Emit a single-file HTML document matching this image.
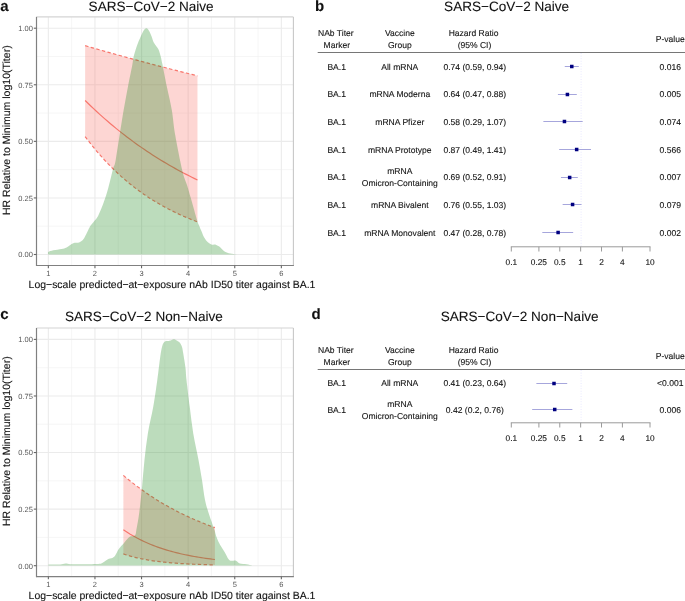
<!DOCTYPE html>
<html><head><meta charset="utf-8"><style>
html,body{margin:0;padding:0;background:#fff;width:685px;height:601px;overflow:hidden}
svg{display:block;will-change:transform}
text{font-family:"Liberation Sans", sans-serif;text-rendering:geometricPrecision;fill:#111;stroke:#111;stroke-width:0.1px}
text.tk{fill:#555;stroke:none}
</style></head><body>
<svg width="685" height="601" viewBox="0 0 685 601">
<rect width="685" height="601" fill="#fff"/>
<rect x="36.5" y="16.9" width="256.9" height="248.6" fill="#fff"/>
<line x1="71.65" y1="16.9" x2="71.65" y2="265.5" stroke="#f0f0f0" stroke-width="0.6"/>
<line x1="118.25" y1="16.9" x2="118.25" y2="265.5" stroke="#f0f0f0" stroke-width="0.6"/>
<line x1="164.85" y1="16.9" x2="164.85" y2="265.5" stroke="#f0f0f0" stroke-width="0.6"/>
<line x1="211.45" y1="16.9" x2="211.45" y2="265.5" stroke="#f0f0f0" stroke-width="0.6"/>
<line x1="258.05" y1="16.9" x2="258.05" y2="265.5" stroke="#f0f0f0" stroke-width="0.6"/>
<line x1="36.5" y1="226.21" x2="293.4" y2="226.21" stroke="#f0f0f0" stroke-width="0.6"/>
<line x1="36.5" y1="169.64" x2="293.4" y2="169.64" stroke="#f0f0f0" stroke-width="0.6"/>
<line x1="36.5" y1="113.06" x2="293.4" y2="113.06" stroke="#f0f0f0" stroke-width="0.6"/>
<line x1="36.5" y1="56.49" x2="293.4" y2="56.49" stroke="#f0f0f0" stroke-width="0.6"/>
<line x1="48.35" y1="16.9" x2="48.35" y2="265.5" stroke="#ebebeb" stroke-width="1.1"/>
<line x1="94.95" y1="16.9" x2="94.95" y2="265.5" stroke="#ebebeb" stroke-width="1.1"/>
<line x1="141.55" y1="16.9" x2="141.55" y2="265.5" stroke="#ebebeb" stroke-width="1.1"/>
<line x1="188.15" y1="16.9" x2="188.15" y2="265.5" stroke="#ebebeb" stroke-width="1.1"/>
<line x1="234.75" y1="16.9" x2="234.75" y2="265.5" stroke="#ebebeb" stroke-width="1.1"/>
<line x1="281.35" y1="16.9" x2="281.35" y2="265.5" stroke="#ebebeb" stroke-width="1.1"/>
<line x1="36.5" y1="254.50" x2="293.4" y2="254.50" stroke="#ebebeb" stroke-width="1.1"/>
<line x1="36.5" y1="197.93" x2="293.4" y2="197.93" stroke="#ebebeb" stroke-width="1.1"/>
<line x1="36.5" y1="141.35" x2="293.4" y2="141.35" stroke="#ebebeb" stroke-width="1.1"/>
<line x1="36.5" y1="84.77" x2="293.4" y2="84.77" stroke="#ebebeb" stroke-width="1.1"/>
<line x1="36.5" y1="28.20" x2="293.4" y2="28.20" stroke="#ebebeb" stroke-width="1.1"/>
<polygon points="85.16,45.69 87.97,46.51 90.78,47.31 93.59,48.12 96.39,48.92 99.20,49.72 102.01,50.52 104.82,51.31 107.63,52.10 110.43,52.89 113.24,53.68 116.05,54.46 118.86,55.24 121.66,56.01 124.47,56.78 127.28,57.55 130.09,58.32 132.89,59.08 135.70,59.84 138.51,60.60 141.32,61.35 144.12,62.11 146.93,62.85 149.74,63.60 152.55,64.34 155.36,65.08 158.16,65.82 160.97,66.55 163.78,67.28 166.59,68.01 169.39,68.74 172.20,69.46 175.01,70.18 177.82,70.90 180.62,71.61 183.43,72.32 186.24,73.03 189.05,73.74 191.85,74.44 194.66,75.14 197.47,75.84 197.47,221.87 194.66,220.80 191.85,219.70 189.05,218.57 186.24,217.39 183.43,216.18 180.62,214.93 177.82,213.64 175.01,212.31 172.20,210.93 169.39,209.51 166.59,208.04 163.78,206.52 160.97,204.96 158.16,203.34 155.36,201.67 152.55,199.95 149.74,198.17 146.93,196.33 144.12,194.43 141.32,192.47 138.51,190.45 135.70,188.36 132.89,186.20 130.09,183.97 127.28,181.67 124.47,179.29 121.66,176.84 118.86,174.30 116.05,171.68 113.24,168.98 110.43,166.19 107.63,163.31 104.82,160.33 102.01,157.26 99.20,154.09 96.39,150.81 93.59,147.43 90.78,143.93 87.97,140.32 85.16,136.60" fill="#F8766D" fill-opacity="0.3"/>
<polyline points="85.16,45.69 87.97,46.51 90.78,47.31 93.59,48.12 96.39,48.92 99.20,49.72 102.01,50.52 104.82,51.31 107.63,52.10 110.43,52.89 113.24,53.68 116.05,54.46 118.86,55.24 121.66,56.01 124.47,56.78 127.28,57.55 130.09,58.32 132.89,59.08 135.70,59.84 138.51,60.60 141.32,61.35 144.12,62.11 146.93,62.85 149.74,63.60 152.55,64.34 155.36,65.08 158.16,65.82 160.97,66.55 163.78,67.28 166.59,68.01 169.39,68.74 172.20,69.46 175.01,70.18 177.82,70.90 180.62,71.61 183.43,72.32 186.24,73.03 189.05,73.74 191.85,74.44 194.66,75.14 197.47,75.84" fill="none" stroke="#F8766D" stroke-width="1.2" stroke-dasharray="3.4 2.4"/>
<polyline points="85.16,136.60 87.97,140.32 90.78,143.93 93.59,147.43 96.39,150.81 99.20,154.09 102.01,157.26 104.82,160.33 107.63,163.31 110.43,166.19 113.24,168.98 116.05,171.68 118.86,174.30 121.66,176.84 124.47,179.29 127.28,181.67 130.09,183.97 132.89,186.20 135.70,188.36 138.51,190.45 141.32,192.47 144.12,194.43 146.93,196.33 149.74,198.17 152.55,199.95 155.36,201.67 158.16,203.34 160.97,204.96 163.78,206.52 166.59,208.04 169.39,209.51 172.20,210.93 175.01,212.31 177.82,213.64 180.62,214.93 183.43,216.18 186.24,217.39 189.05,218.57 191.85,219.70 194.66,220.80 197.47,221.87" fill="none" stroke="#F8766D" stroke-width="1.2" stroke-dasharray="3.4 2.4"/>
<polyline points="85.16,100.46 87.97,103.23 90.78,105.95 93.59,108.63 96.39,111.25 99.20,113.83 102.01,116.36 104.82,118.85 107.63,121.29 110.43,123.69 113.24,126.05 116.05,128.36 118.86,130.63 121.66,132.86 124.47,135.05 127.28,137.20 130.09,139.31 132.89,141.38 135.70,143.42 138.51,145.42 141.32,147.38 144.12,149.31 146.93,151.20 149.74,153.06 152.55,154.89 155.36,156.68 158.16,158.44 160.97,160.17 163.78,161.87 166.59,163.54 169.39,165.18 172.20,166.78 175.01,168.36 177.82,169.91 180.62,171.44 183.43,172.93 186.24,174.40 189.05,175.84 191.85,177.26 194.66,178.65 197.47,180.01" fill="none" stroke="#F8766D" stroke-width="1.2"/>
<path d="M48.30,254.50 C48.30,254.08 47.47,252.70 48.30,252.00 C49.13,251.30 51.08,250.80 53.30,250.30 C55.52,249.80 59.38,249.48 61.60,249.00 C63.82,248.52 64.65,248.37 66.60,247.40 C68.55,246.43 71.22,244.03 73.30,243.20 C75.38,242.37 77.30,243.23 79.10,242.40 C80.90,241.57 82.28,240.83 84.10,238.20 C85.92,235.57 88.48,229.23 90.00,226.60 C91.52,223.97 91.83,224.22 93.20,222.40 C94.57,220.58 96.40,219.17 98.20,215.70 C100.00,212.23 102.33,206.17 104.00,201.60 C105.67,197.03 106.67,193.85 108.20,188.30 C109.73,182.75 111.95,173.02 113.20,168.30 C114.45,163.58 114.23,168.05 115.70,160.00 C117.17,151.95 119.95,132.23 122.00,120.00 C124.05,107.77 126.28,95.77 128.00,86.60 C129.72,77.43 131.42,69.72 132.30,65.00 C133.18,60.28 132.85,60.52 133.30,58.30 C133.75,56.08 134.30,54.05 135.00,51.70 C135.70,49.35 136.67,46.43 137.50,44.20 C138.33,41.97 139.15,40.23 140.00,38.30 C140.85,36.37 141.83,34.10 142.60,32.60 C143.37,31.10 143.97,30.03 144.60,29.30 C145.23,28.57 145.83,28.22 146.40,28.20 C146.97,28.18 147.45,28.57 148.00,29.20 C148.55,29.83 149.08,30.75 149.70,32.00 C150.32,33.25 151.02,34.95 151.70,36.70 C152.38,38.45 152.92,40.83 153.75,42.50 C154.58,44.17 155.87,45.45 156.70,46.70 C157.53,47.95 158.07,48.33 158.75,50.00 C159.43,51.67 160.23,54.48 160.80,56.70 C161.38,58.92 161.20,58.32 162.20,63.30 C163.20,68.28 165.20,78.82 166.80,86.60 C168.40,94.38 170.40,101.93 171.80,110.00 C173.20,118.07 173.43,124.83 175.20,135.00 C176.97,145.17 180.45,162.70 182.40,171.00 C184.35,179.30 185.53,180.42 186.90,184.80 C188.27,189.18 188.88,191.33 190.60,197.30 C192.32,203.27 195.73,215.78 197.20,220.60 C198.67,225.42 198.70,224.45 199.40,226.20 C200.10,227.95 200.60,229.22 201.40,231.10 C202.20,232.98 203.12,235.63 204.20,237.50 C205.28,239.37 206.62,241.10 207.90,242.30 C209.18,243.50 210.88,244.33 211.90,244.70 C212.92,245.07 213.33,244.48 214.00,244.50 C214.67,244.52 214.92,244.37 215.90,244.80 C216.88,245.23 218.57,246.05 219.90,247.10 C221.23,248.15 222.43,250.08 223.90,251.10 C225.37,252.12 226.82,252.68 228.70,253.20 C230.58,253.72 233.12,253.98 235.20,254.20 C237.28,254.42 240.20,254.45 241.20,254.50Z" fill="#228b22" fill-opacity="0.3"/>
<line x1="36.5" y1="16.9" x2="293.4" y2="16.9" stroke="#d4d4d4" stroke-width="1.1"/>
<line x1="293.4" y1="16.9" x2="293.4" y2="265.5" stroke="#c8c8c8" stroke-width="1.1"/>
<line x1="36.5" y1="16.9" x2="36.5" y2="266.0" stroke="#808080" stroke-width="1.2"/>
<line x1="36.0" y1="265.5" x2="293.9" y2="265.5" stroke="#808080" stroke-width="1.2"/>
<line x1="33.8" y1="254.50" x2="36.5" y2="254.50" stroke="#666" stroke-width="1.1"/>
<text x="32.9" y="257.30" font-size="7.5" class="tk" text-anchor="end">0.00</text>
<line x1="33.8" y1="197.93" x2="36.5" y2="197.93" stroke="#666" stroke-width="1.1"/>
<text x="32.9" y="200.73" font-size="7.5" class="tk" text-anchor="end">0.25</text>
<line x1="33.8" y1="141.35" x2="36.5" y2="141.35" stroke="#666" stroke-width="1.1"/>
<text x="32.9" y="144.15" font-size="7.5" class="tk" text-anchor="end">0.50</text>
<line x1="33.8" y1="84.77" x2="36.5" y2="84.77" stroke="#666" stroke-width="1.1"/>
<text x="32.9" y="87.57" font-size="7.5" class="tk" text-anchor="end">0.75</text>
<line x1="33.8" y1="28.20" x2="36.5" y2="28.20" stroke="#666" stroke-width="1.1"/>
<text x="32.9" y="31.00" font-size="7.5" class="tk" text-anchor="end">1.00</text>
<line x1="48.35" y1="265.5" x2="48.35" y2="268.2" stroke="#666" stroke-width="1.1"/>
<text x="48.35" y="275.60" font-size="7.5" class="tk" text-anchor="middle">1</text>
<line x1="94.95" y1="265.5" x2="94.95" y2="268.2" stroke="#666" stroke-width="1.1"/>
<text x="94.95" y="275.60" font-size="7.5" class="tk" text-anchor="middle">2</text>
<line x1="141.55" y1="265.5" x2="141.55" y2="268.2" stroke="#666" stroke-width="1.1"/>
<text x="141.55" y="275.60" font-size="7.5" class="tk" text-anchor="middle">3</text>
<line x1="188.15" y1="265.5" x2="188.15" y2="268.2" stroke="#666" stroke-width="1.1"/>
<text x="188.15" y="275.60" font-size="7.5" class="tk" text-anchor="middle">4</text>
<line x1="234.75" y1="265.5" x2="234.75" y2="268.2" stroke="#666" stroke-width="1.1"/>
<text x="234.75" y="275.60" font-size="7.5" class="tk" text-anchor="middle">5</text>
<line x1="281.35" y1="265.5" x2="281.35" y2="268.2" stroke="#666" stroke-width="1.1"/>
<text x="281.35" y="275.60" font-size="7.5" class="tk" text-anchor="middle">6</text>
<text x="28.6" y="287.60" font-size="10.46">Log−scale predicted−at−exposure nAb ID50 titer against BA.1</text>
<text transform="translate(9.7,130.20) rotate(-90)" font-size="10.52" text-anchor="middle">HR Relative to Minimum log10(Titer)</text>
<text x="151.1" y="11.10" font-size="13.55" text-anchor="middle">SARS−CoV−2 Naive</text>
<text x="0.3" y="10.70" font-size="15" font-weight="bold">a</text>
<rect x="36.5" y="328.0" width="256.9" height="248.60000000000002" fill="#fff"/>
<line x1="71.65" y1="328.0" x2="71.65" y2="576.6" stroke="#f0f0f0" stroke-width="0.6"/>
<line x1="118.25" y1="328.0" x2="118.25" y2="576.6" stroke="#f0f0f0" stroke-width="0.6"/>
<line x1="164.85" y1="328.0" x2="164.85" y2="576.6" stroke="#f0f0f0" stroke-width="0.6"/>
<line x1="211.45" y1="328.0" x2="211.45" y2="576.6" stroke="#f0f0f0" stroke-width="0.6"/>
<line x1="258.05" y1="328.0" x2="258.05" y2="576.6" stroke="#f0f0f0" stroke-width="0.6"/>
<line x1="36.5" y1="537.41" x2="293.4" y2="537.41" stroke="#f0f0f0" stroke-width="0.6"/>
<line x1="36.5" y1="480.84" x2="293.4" y2="480.84" stroke="#f0f0f0" stroke-width="0.6"/>
<line x1="36.5" y1="424.26" x2="293.4" y2="424.26" stroke="#f0f0f0" stroke-width="0.6"/>
<line x1="36.5" y1="367.69" x2="293.4" y2="367.69" stroke="#f0f0f0" stroke-width="0.6"/>
<line x1="48.35" y1="328.0" x2="48.35" y2="576.6" stroke="#ebebeb" stroke-width="1.1"/>
<line x1="94.95" y1="328.0" x2="94.95" y2="576.6" stroke="#ebebeb" stroke-width="1.1"/>
<line x1="141.55" y1="328.0" x2="141.55" y2="576.6" stroke="#ebebeb" stroke-width="1.1"/>
<line x1="188.15" y1="328.0" x2="188.15" y2="576.6" stroke="#ebebeb" stroke-width="1.1"/>
<line x1="234.75" y1="328.0" x2="234.75" y2="576.6" stroke="#ebebeb" stroke-width="1.1"/>
<line x1="281.35" y1="328.0" x2="281.35" y2="576.6" stroke="#ebebeb" stroke-width="1.1"/>
<line x1="36.5" y1="565.70" x2="293.4" y2="565.70" stroke="#ebebeb" stroke-width="1.1"/>
<line x1="36.5" y1="509.13" x2="293.4" y2="509.13" stroke="#ebebeb" stroke-width="1.1"/>
<line x1="36.5" y1="452.55" x2="293.4" y2="452.55" stroke="#ebebeb" stroke-width="1.1"/>
<line x1="36.5" y1="395.98" x2="293.4" y2="395.98" stroke="#ebebeb" stroke-width="1.1"/>
<line x1="36.5" y1="339.40" x2="293.4" y2="339.40" stroke="#ebebeb" stroke-width="1.1"/>
<polygon points="123.38,475.41 125.66,477.34 127.95,479.22 130.24,481.07 132.53,482.88 134.82,484.65 137.10,486.38 139.39,488.07 141.68,489.73 143.97,491.35 146.26,492.94 148.54,494.50 150.83,496.02 153.12,497.51 155.41,498.96 157.70,500.39 159.98,501.78 162.27,503.15 164.56,504.49 166.85,505.79 169.14,507.07 171.43,508.33 173.71,509.55 176.00,510.75 178.29,511.93 180.58,513.07 182.87,514.20 185.15,515.30 187.44,516.38 189.73,517.43 192.02,518.46 194.31,519.47 196.59,520.46 198.88,521.42 201.17,522.37 203.46,523.29 205.75,524.20 208.03,525.09 210.32,525.95 212.61,526.80 214.90,527.63 214.90,564.91 212.61,564.86 210.32,564.80 208.03,564.73 205.75,564.67 203.46,564.59 201.17,564.52 198.88,564.43 196.59,564.35 194.31,564.25 192.02,564.15 189.73,564.04 187.44,563.93 185.15,563.80 182.87,563.67 180.58,563.53 178.29,563.37 176.00,563.21 173.71,563.04 171.43,562.85 169.14,562.65 166.85,562.44 164.56,562.21 162.27,561.97 159.98,561.71 157.70,561.43 155.41,561.13 153.12,560.81 150.83,560.47 148.54,560.10 146.26,559.71 143.97,559.29 141.68,558.85 139.39,558.37 137.10,557.85 134.82,557.31 132.53,556.72 130.24,556.09 127.95,555.42 125.66,554.70 123.38,553.93" fill="#F8766D" fill-opacity="0.3"/>
<polyline points="123.38,475.41 125.66,477.34 127.95,479.22 130.24,481.07 132.53,482.88 134.82,484.65 137.10,486.38 139.39,488.07 141.68,489.73 143.97,491.35 146.26,492.94 148.54,494.50 150.83,496.02 153.12,497.51 155.41,498.96 157.70,500.39 159.98,501.78 162.27,503.15 164.56,504.49 166.85,505.79 169.14,507.07 171.43,508.33 173.71,509.55 176.00,510.75 178.29,511.93 180.58,513.07 182.87,514.20 185.15,515.30 187.44,516.38 189.73,517.43 192.02,518.46 194.31,519.47 196.59,520.46 198.88,521.42 201.17,522.37 203.46,523.29 205.75,524.20 208.03,525.09 210.32,525.95 212.61,526.80 214.90,527.63" fill="none" stroke="#F8766D" stroke-width="1.2" stroke-dasharray="3.4 2.4"/>
<polyline points="123.38,553.93 125.66,554.70 127.95,555.42 130.24,556.09 132.53,556.72 134.82,557.31 137.10,557.85 139.39,558.37 141.68,558.85 143.97,559.29 146.26,559.71 148.54,560.10 150.83,560.47 153.12,560.81 155.41,561.13 157.70,561.43 159.98,561.71 162.27,561.97 164.56,562.21 166.85,562.44 169.14,562.65 171.43,562.85 173.71,563.04 176.00,563.21 178.29,563.37 180.58,563.53 182.87,563.67 185.15,563.80 187.44,563.93 189.73,564.04 192.02,564.15 194.31,564.25 196.59,564.35 198.88,564.43 201.17,564.52 203.46,564.59 205.75,564.67 208.03,564.73 210.32,564.80 212.61,564.86 214.90,564.91" fill="none" stroke="#F8766D" stroke-width="1.2" stroke-dasharray="3.4 2.4"/>
<polyline points="123.38,529.72 125.66,531.27 127.95,532.75 130.24,534.17 132.53,535.52 134.82,536.82 137.10,538.07 139.39,539.26 141.68,540.39 143.97,541.48 146.26,542.52 148.54,543.52 150.83,544.48 153.12,545.39 155.41,546.26 157.70,547.10 159.98,547.90 162.27,548.67 164.56,549.40 166.85,550.10 169.14,550.77 171.43,551.42 173.71,552.03 176.00,552.62 178.29,553.18 180.58,553.72 182.87,554.24 185.15,554.73 187.44,555.20 189.73,555.65 192.02,556.09 194.31,556.50 196.59,556.90 198.88,557.27 201.17,557.64 203.46,557.98 205.75,558.32 208.03,558.63 210.32,558.94 212.61,559.23 214.90,559.51" fill="none" stroke="#F8766D" stroke-width="1.2"/>
<path d="M48.50,565.60 C48.50,565.45 47.48,564.87 48.50,564.70 C49.52,564.53 52.62,564.63 54.60,564.60 C56.58,564.57 58.58,564.67 60.40,564.50 C62.22,564.33 63.78,563.63 65.50,563.60 C67.22,563.57 67.65,564.20 70.70,564.30 C73.75,564.40 79.18,564.27 83.80,564.20 C88.42,564.13 95.48,564.00 98.40,563.90 C101.32,563.80 100.33,563.95 101.30,563.60 C102.27,563.25 103.10,562.53 104.20,561.80 C105.30,561.07 106.55,559.83 107.90,559.20 C109.25,558.57 111.08,558.62 112.30,558.00 C113.52,557.38 114.12,557.00 115.20,555.50 C116.28,554.00 117.47,550.93 118.80,549.00 C120.13,547.07 121.45,545.90 123.20,543.90 C124.95,541.90 127.35,538.40 129.30,537.00 C131.25,535.60 133.70,536.83 134.90,535.50 C136.10,534.17 135.78,532.75 136.50,529.00 C137.22,525.25 138.27,520.10 139.20,513.00 C140.13,505.90 141.22,495.27 142.10,486.40 C142.98,477.53 143.53,468.67 144.50,459.80 C145.47,450.93 146.43,442.07 147.90,433.20 C149.37,424.33 151.73,415.47 153.30,406.60 C154.87,397.73 156.38,386.43 157.30,380.00 C158.22,373.57 158.27,372.17 158.80,368.00 C159.33,363.83 159.97,358.50 160.50,355.00 C161.03,351.50 161.50,349.00 162.00,347.00 C162.50,345.00 162.92,343.97 163.50,343.00 C164.08,342.03 164.50,341.57 165.50,341.20 C166.50,340.83 168.08,341.12 169.50,340.80 C170.92,340.48 172.67,339.27 174.00,339.30 C175.33,339.33 176.50,340.38 177.50,341.00 C178.50,341.62 179.25,342.00 180.00,343.00 C180.75,344.00 181.42,345.00 182.00,347.00 C182.58,349.00 182.92,351.50 183.50,355.00 C184.08,358.50 185.00,363.83 185.50,368.00 C186.00,372.17 185.80,373.57 186.50,380.00 C187.20,386.43 188.58,397.73 189.70,406.60 C190.82,415.47 191.73,424.30 193.20,433.20 C194.67,442.10 197.03,452.20 198.50,460.00 C199.97,467.80 200.92,473.33 202.00,480.00 C203.08,486.67 203.88,494.45 205.00,500.00 C206.12,505.55 207.32,508.85 208.70,513.30 C210.08,517.75 212.33,523.92 213.30,526.70 C214.27,529.48 213.95,528.23 214.50,530.00 C215.05,531.77 215.70,534.87 216.60,537.30 C217.50,539.73 218.57,542.17 219.90,544.60 C221.23,547.03 223.15,549.47 224.60,551.90 C226.05,554.33 227.50,557.73 228.60,559.20 C229.70,560.67 230.22,560.50 231.20,560.70 C232.18,560.90 233.62,560.35 234.50,560.40 C235.38,560.45 235.60,560.47 236.50,561.00 C237.40,561.53 238.23,563.05 239.90,563.60 C241.57,564.15 244.43,563.97 246.50,564.30 C248.57,564.63 251.33,565.38 252.30,565.60Z" fill="#228b22" fill-opacity="0.3"/>
<line x1="36.5" y1="328.0" x2="293.4" y2="328.0" stroke="#d4d4d4" stroke-width="1.1"/>
<line x1="293.4" y1="328.0" x2="293.4" y2="576.6" stroke="#c8c8c8" stroke-width="1.1"/>
<line x1="36.5" y1="328.0" x2="36.5" y2="577.1" stroke="#808080" stroke-width="1.2"/>
<line x1="36.0" y1="576.6" x2="293.9" y2="576.6" stroke="#808080" stroke-width="1.2"/>
<line x1="33.8" y1="565.70" x2="36.5" y2="565.70" stroke="#666" stroke-width="1.1"/>
<text x="32.9" y="568.50" font-size="7.5" class="tk" text-anchor="end">0.00</text>
<line x1="33.8" y1="509.13" x2="36.5" y2="509.13" stroke="#666" stroke-width="1.1"/>
<text x="32.9" y="511.93" font-size="7.5" class="tk" text-anchor="end">0.25</text>
<line x1="33.8" y1="452.55" x2="36.5" y2="452.55" stroke="#666" stroke-width="1.1"/>
<text x="32.9" y="455.35" font-size="7.5" class="tk" text-anchor="end">0.50</text>
<line x1="33.8" y1="395.98" x2="36.5" y2="395.98" stroke="#666" stroke-width="1.1"/>
<text x="32.9" y="398.78" font-size="7.5" class="tk" text-anchor="end">0.75</text>
<line x1="33.8" y1="339.40" x2="36.5" y2="339.40" stroke="#666" stroke-width="1.1"/>
<text x="32.9" y="342.20" font-size="7.5" class="tk" text-anchor="end">1.00</text>
<line x1="48.35" y1="576.6" x2="48.35" y2="579.3000000000001" stroke="#666" stroke-width="1.1"/>
<text x="48.35" y="586.70" font-size="7.5" class="tk" text-anchor="middle">1</text>
<line x1="94.95" y1="576.6" x2="94.95" y2="579.3000000000001" stroke="#666" stroke-width="1.1"/>
<text x="94.95" y="586.70" font-size="7.5" class="tk" text-anchor="middle">2</text>
<line x1="141.55" y1="576.6" x2="141.55" y2="579.3000000000001" stroke="#666" stroke-width="1.1"/>
<text x="141.55" y="586.70" font-size="7.5" class="tk" text-anchor="middle">3</text>
<line x1="188.15" y1="576.6" x2="188.15" y2="579.3000000000001" stroke="#666" stroke-width="1.1"/>
<text x="188.15" y="586.70" font-size="7.5" class="tk" text-anchor="middle">4</text>
<line x1="234.75" y1="576.6" x2="234.75" y2="579.3000000000001" stroke="#666" stroke-width="1.1"/>
<text x="234.75" y="586.70" font-size="7.5" class="tk" text-anchor="middle">5</text>
<line x1="281.35" y1="576.6" x2="281.35" y2="579.3000000000001" stroke="#666" stroke-width="1.1"/>
<text x="281.35" y="586.70" font-size="7.5" class="tk" text-anchor="middle">6</text>
<text x="28.6" y="598.70" font-size="10.46">Log−scale predicted−at−exposure nAb ID50 titer against BA.1</text>
<text transform="translate(9.7,441.20) rotate(-90)" font-size="10.52" text-anchor="middle">HR Relative to Minimum log10(Titer)</text>
<text x="143.9" y="320.50" font-size="13.55" text-anchor="middle">SARS−CoV−2 Non−Naive</text>
<text x="0.3" y="318.90" font-size="15" font-weight="bold">c</text>
<text x="506.6" y="11.10" font-size="13.55" text-anchor="middle">SARS−CoV−2 Naive</text>
<text x="314.9" y="10.80" font-size="15" font-weight="bold">b</text>
<text x="335.8" y="35.80" font-size="8.55" text-anchor="middle">NAb Titer</text>
<text x="336.9" y="48.00" font-size="8.55" text-anchor="middle">Marker</text>
<text x="399.8" y="35.80" font-size="8.55" text-anchor="middle">Vaccine</text>
<text x="399.8" y="48.00" font-size="8.55" text-anchor="middle">Group</text>
<text x="473.6" y="35.80" font-size="8.55" text-anchor="middle">Hazard Ratio</text>
<text x="474.5" y="48.00" font-size="8.55" text-anchor="middle">(95% CI)</text>
<text x="670.3" y="41.60" font-size="8.55" text-anchor="middle">P-value</text>
<line x1="317.7" y1="52.50" x2="685" y2="52.50" stroke="#767676" stroke-width="1"/>
<line x1="581.1" y1="53.00" x2="581.1" y2="246.80" stroke="#e2e2ff" stroke-width="0.8" stroke-dasharray="1 1.6"/>
<text x="336.7" y="69.60" font-size="8.55" text-anchor="middle">BA.1</text>
<text x="399.8" y="69.60" font-size="8.55" text-anchor="middle">All mRNA</text>
<text x="474.8" y="69.60" font-size="8.55" text-anchor="middle">0.74 (0.59, 0.94)</text>
<text x="670.3" y="69.60" font-size="8.55" text-anchor="middle">0.016</text>
<line x1="564.76" y1="66.50" x2="578.79" y2="66.50" stroke="#a6a6dc" stroke-width="1"/>
<rect x="570.03" y="64.75" width="3.5" height="3.5" fill="#000080"/>
<text x="336.7" y="97.27" font-size="8.55" text-anchor="middle">BA.1</text>
<text x="399.8" y="97.27" font-size="8.55" text-anchor="middle">mRNA Moderna</text>
<text x="474.8" y="97.27" font-size="8.55" text-anchor="middle">0.64 (0.47, 0.88)</text>
<text x="670.3" y="97.27" font-size="8.55" text-anchor="middle">0.005</text>
<line x1="557.91" y1="94.50" x2="576.80" y2="94.50" stroke="#a6a6dc" stroke-width="1"/>
<rect x="565.66" y="92.75" width="3.5" height="3.5" fill="#000080"/>
<text x="336.7" y="124.94" font-size="8.55" text-anchor="middle">BA.1</text>
<text x="399.8" y="124.94" font-size="8.55" text-anchor="middle">mRNA Pfizer</text>
<text x="474.8" y="124.94" font-size="8.55" text-anchor="middle">0.58 (0.29, 1.07)</text>
<text x="670.3" y="124.94" font-size="8.55" text-anchor="middle">0.074</text>
<line x1="543.37" y1="121.50" x2="582.69" y2="121.50" stroke="#a6a6dc" stroke-width="1"/>
<rect x="562.69" y="119.75" width="3.5" height="3.5" fill="#000080"/>
<text x="336.7" y="152.61" font-size="8.55" text-anchor="middle">BA.1</text>
<text x="399.8" y="152.61" font-size="8.55" text-anchor="middle">mRNA Prototype</text>
<text x="474.8" y="152.61" font-size="8.55" text-anchor="middle">0.87 (0.49, 1.41)</text>
<text x="670.3" y="152.61" font-size="8.55" text-anchor="middle">0.566</text>
<line x1="559.17" y1="149.50" x2="591.00" y2="149.50" stroke="#a6a6dc" stroke-width="1"/>
<rect x="574.91" y="147.75" width="3.5" height="3.5" fill="#000080"/>
<text x="336.7" y="180.28" font-size="8.55" text-anchor="middle">BA.1</text>
<text x="399.8" y="174.18" font-size="8.55" text-anchor="middle">mRNA</text>
<text x="399.8" y="186.38" font-size="8.55" text-anchor="middle">Omicron-Containing</text>
<text x="474.8" y="180.28" font-size="8.55" text-anchor="middle">0.69 (0.52, 0.91)</text>
<text x="670.3" y="180.28" font-size="8.55" text-anchor="middle">0.007</text>
<line x1="560.95" y1="177.50" x2="577.81" y2="177.50" stroke="#a6a6dc" stroke-width="1"/>
<rect x="567.92" y="175.75" width="3.5" height="3.5" fill="#000080"/>
<text x="336.7" y="207.95" font-size="8.55" text-anchor="middle">BA.1</text>
<text x="399.8" y="207.95" font-size="8.55" text-anchor="middle">mRNA Bivalent</text>
<text x="474.8" y="207.95" font-size="8.55" text-anchor="middle">0.76 (0.55, 1.03)</text>
<text x="670.3" y="207.95" font-size="8.55" text-anchor="middle">0.079</text>
<line x1="562.64" y1="204.50" x2="581.54" y2="204.50" stroke="#a6a6dc" stroke-width="1"/>
<rect x="570.83" y="202.75" width="3.5" height="3.5" fill="#000080"/>
<text x="336.7" y="235.62" font-size="8.55" text-anchor="middle">BA.1</text>
<text x="399.8" y="235.62" font-size="8.55" text-anchor="middle">mRNA Monovalent</text>
<text x="474.8" y="235.62" font-size="8.55" text-anchor="middle">0.47 (0.28, 0.78)</text>
<text x="670.3" y="235.62" font-size="8.55" text-anchor="middle">0.002</text>
<line x1="542.31" y1="232.50" x2="573.17" y2="232.50" stroke="#a6a6dc" stroke-width="1"/>
<rect x="556.36" y="230.75" width="3.5" height="3.5" fill="#000080"/>
<line x1="510.80" y1="246.80" x2="650.50" y2="246.80" stroke="#9a9a9a" stroke-width="1"/>
<line x1="511.30" y1="246.80" x2="511.30" y2="251.50" stroke="#9a9a9a" stroke-width="1"/>
<text x="511.30" y="265.00" font-size="8.3" text-anchor="middle">0.1</text>
<line x1="538.90" y1="246.80" x2="538.90" y2="251.50" stroke="#9a9a9a" stroke-width="1"/>
<text x="538.90" y="265.00" font-size="8.3" text-anchor="middle">0.25</text>
<line x1="559.77" y1="246.80" x2="559.77" y2="251.50" stroke="#9a9a9a" stroke-width="1"/>
<text x="559.77" y="265.00" font-size="8.3" text-anchor="middle">0.5</text>
<line x1="580.65" y1="246.80" x2="580.65" y2="251.50" stroke="#9a9a9a" stroke-width="1"/>
<text x="580.65" y="265.00" font-size="8.3" text-anchor="middle">1</text>
<line x1="601.53" y1="246.80" x2="601.53" y2="251.50" stroke="#9a9a9a" stroke-width="1"/>
<text x="601.53" y="265.00" font-size="8.3" text-anchor="middle">2</text>
<line x1="622.40" y1="246.80" x2="622.40" y2="251.50" stroke="#9a9a9a" stroke-width="1"/>
<text x="622.40" y="265.00" font-size="8.3" text-anchor="middle">4</text>
<line x1="650.00" y1="246.80" x2="650.00" y2="251.50" stroke="#9a9a9a" stroke-width="1"/>
<text x="650.00" y="265.00" font-size="8.3" text-anchor="middle">10</text>
<text x="519.6" y="320.60" font-size="13.55" text-anchor="middle">SARS−CoV−2 Non−Naive</text>
<text x="311.6" y="318.60" font-size="15" font-weight="bold">d</text>
<text x="335.8" y="352.80" font-size="8.55" text-anchor="middle">NAb Titer</text>
<text x="336.9" y="365.00" font-size="8.55" text-anchor="middle">Marker</text>
<text x="399.8" y="352.80" font-size="8.55" text-anchor="middle">Vaccine</text>
<text x="399.8" y="365.00" font-size="8.55" text-anchor="middle">Group</text>
<text x="473.6" y="352.80" font-size="8.55" text-anchor="middle">Hazard Ratio</text>
<text x="474.5" y="365.00" font-size="8.55" text-anchor="middle">(95% CI)</text>
<text x="670.3" y="358.60" font-size="8.55" text-anchor="middle">P-value</text>
<line x1="317.7" y1="369.50" x2="685" y2="369.50" stroke="#767676" stroke-width="1"/>
<line x1="581.1" y1="370.00" x2="581.1" y2="422.80" stroke="#e2e2ff" stroke-width="0.8" stroke-dasharray="1 1.6"/>
<text x="336.7" y="386.10" font-size="8.55" text-anchor="middle">BA.1</text>
<text x="399.8" y="386.10" font-size="8.55" text-anchor="middle">All mRNA</text>
<text x="474.8" y="386.10" font-size="8.55" text-anchor="middle">0.41 (0.23, 0.64)</text>
<text x="670.3" y="386.10" font-size="8.55" text-anchor="middle">&lt;0.001</text>
<line x1="536.39" y1="383.50" x2="567.21" y2="383.50" stroke="#a6a6dc" stroke-width="1"/>
<rect x="552.25" y="381.75" width="3.5" height="3.5" fill="#000080"/>
<text x="336.7" y="412.60" font-size="8.55" text-anchor="middle">BA.1</text>
<text x="399.8" y="406.50" font-size="8.55" text-anchor="middle">mRNA</text>
<text x="399.8" y="418.70" font-size="8.55" text-anchor="middle">Omicron-Containing</text>
<text x="474.8" y="412.60" font-size="8.55" text-anchor="middle">0.42 (0.2, 0.76)</text>
<text x="670.3" y="412.60" font-size="8.55" text-anchor="middle">0.006</text>
<line x1="532.18" y1="409.50" x2="572.38" y2="409.50" stroke="#a6a6dc" stroke-width="1"/>
<rect x="552.97" y="407.75" width="3.5" height="3.5" fill="#000080"/>
<line x1="510.80" y1="422.80" x2="650.50" y2="422.80" stroke="#9a9a9a" stroke-width="1"/>
<line x1="511.30" y1="422.80" x2="511.30" y2="427.50" stroke="#9a9a9a" stroke-width="1"/>
<text x="511.30" y="441.00" font-size="8.3" text-anchor="middle">0.1</text>
<line x1="538.90" y1="422.80" x2="538.90" y2="427.50" stroke="#9a9a9a" stroke-width="1"/>
<text x="538.90" y="441.00" font-size="8.3" text-anchor="middle">0.25</text>
<line x1="559.77" y1="422.80" x2="559.77" y2="427.50" stroke="#9a9a9a" stroke-width="1"/>
<text x="559.77" y="441.00" font-size="8.3" text-anchor="middle">0.5</text>
<line x1="580.65" y1="422.80" x2="580.65" y2="427.50" stroke="#9a9a9a" stroke-width="1"/>
<text x="580.65" y="441.00" font-size="8.3" text-anchor="middle">1</text>
<line x1="601.53" y1="422.80" x2="601.53" y2="427.50" stroke="#9a9a9a" stroke-width="1"/>
<text x="601.53" y="441.00" font-size="8.3" text-anchor="middle">2</text>
<line x1="622.40" y1="422.80" x2="622.40" y2="427.50" stroke="#9a9a9a" stroke-width="1"/>
<text x="622.40" y="441.00" font-size="8.3" text-anchor="middle">4</text>
<line x1="650.00" y1="422.80" x2="650.00" y2="427.50" stroke="#9a9a9a" stroke-width="1"/>
<text x="650.00" y="441.00" font-size="8.3" text-anchor="middle">10</text>
</svg>
</body></html>
